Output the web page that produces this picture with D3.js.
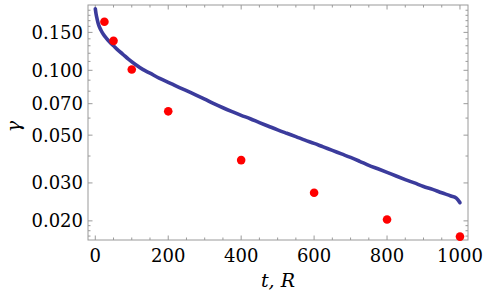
<!DOCTYPE html>
<html>
<head>
<meta charset="utf-8">
<script src="https://cdn.jsdelivr.net/npm/d3@7"></script>
<style>
  html, body { margin: 0; padding: 0; background: #fff; }
</style>
</head>
<body>
<svg id="chart" width="485" height="299"></svg>
<script>
// ---- data ----
const curveT = [0,2,5,8,12,16,22,30,40,50,60,75,90,110,130,150,175,200,225,250,275,300,325,350,375,400,425,450,475,500,525,550,575,600,625,650,675,700,725,750,775,800,825,850,875,900,925,950,975,990,1000];
const curveGamma = [0.193,0.183,0.173,0.165,0.158,0.153,0.147,0.141,0.135,0.130,0.125,0.119,0.113,0.1065,0.101,0.097,0.092,0.088,0.084,0.0805,0.077,0.0735,0.0700,0.0670,0.0643,0.0618,0.0596,0.0572,0.0550,0.0529,0.0510,0.0492,0.0474,0.0458,0.0441,0.0425,0.0409,0.0394,0.0378,0.0362,0.0349,0.0336,0.0323,0.0311,0.0300,0.0289,0.0280,0.0270,0.0261,0.0255,0.0243];
const pointT = [25,50,100,200,400,600,800,1000];
const pointGamma = [0.168,0.137,0.1008,0.0645,0.0383,0.027,0.0203,0.0169];
const xTicks = [0,200,400,600,800,1000];
const xMinorTicks = d3.range(0, 1001, 50);
const yTicks = [0.02,0.03,0.05,0.07,0.10,0.15];
const yMinorTicks = [0.017,0.018,0.019,0.04,0.06,0.08,0.09,0.11,0.12,0.13,0.14,0.16,0.17,0.18,0.19];

// ---- layout ----
const L = 88, R = 468, T = 5, B = 240;
const FONT = "'DejaVu Serif', serif";
const svg = d3.select("#chart");
const x = d3.scaleLinear().domain([-20, 1022]).range([L, R]);
const y = d3.scaleLog().domain([0.0163, 0.201]).range([B, T]);

const frameColor = "#9a9a9a";

// frame
svg.append("rect").attr("x", L).attr("y", T).attr("width", R - L).attr("height", B - T)
  .attr("fill", "none").attr("stroke", frameColor).attr("stroke-width", 1);

// ticks (inward)
function ticks(g, scale, vals, len, orient) {
  g.selectAll("line").data(vals).join("line")
    .attr("stroke", frameColor).attr("stroke-width", 1)
    .each(function(d) {
      const s = d3.select(this);
      const p = scale(d);
      if (orient === "bottom") s.attr("x1", p).attr("x2", p).attr("y1", B).attr("y2", B - len);
      if (orient === "top") s.attr("x1", p).attr("x2", p).attr("y1", T).attr("y2", T + len);
      if (orient === "left") s.attr("y1", p).attr("y2", p).attr("x1", L).attr("x2", L + len);
      if (orient === "right") s.attr("y1", p).attr("y2", p).attr("x1", R).attr("x2", R - len);
    });
}
const tg = svg.append("g");
ticks(tg.append("g"), x, xTicks, 4.5, "bottom");
ticks(tg.append("g"), x, xMinorTicks.filter(v => !xTicks.includes(v)), 2.5, "bottom");
ticks(tg.append("g"), x, xTicks, 4.5, "top");
ticks(tg.append("g"), x, xMinorTicks.filter(v => !xTicks.includes(v)), 2.5, "top");
ticks(tg.append("g"), y, yTicks, 4.5, "left");
ticks(tg.append("g"), y, yMinorTicks, 2.5, "left");
ticks(tg.append("g"), y, yTicks, 4.5, "right");
ticks(tg.append("g"), y, yMinorTicks, 2.5, "right");

// tick labels
svg.append("g").selectAll("text").data(xTicks).join("text")
  .attr("font-family", FONT)
  .attr("x", d => x(d)).attr("y", 262).attr("text-anchor", "middle")
  .attr("font-size", 18).text(d => d);
svg.append("g").selectAll("text").data(yTicks).join("text")
  .attr("font-family", FONT)
  .attr("x", 83).attr("y", d => y(d) + 6.5).attr("text-anchor", "end")
  .attr("font-size", 18).text(d => d3.format(".3f")(d));

// axis titles
svg.append("text").attr("font-family", FONT).attr("x", (L + R) / 2).attr("y", 287).attr("text-anchor", "middle")
  .attr("font-size", 19).attr("font-style", "italic").text("t, R");
svg.append("text").attr("font-family", FONT).attr("transform", `translate(20,${(T + B) / 2 + 4}) rotate(-90)`)
  .attr("text-anchor", "middle").attr("font-size", 19).attr("font-style", "italic").text("γ");

// curve
const curveData = curveT.map((t, i) => [t, curveGamma[i]]);
svg.append("path").datum(curveData)
  .attr("fill", "none").attr("stroke", "#3b3b9c").attr("stroke-width", 3.6)
  .attr("stroke-linejoin", "round").attr("stroke-linecap", "round")
  .attr("d", d3.line().x(d => x(d[0])).y(d => y(d[1])).curve(d3.curveMonotoneX));

// points
svg.append("g").selectAll("circle").data(pointT.map((t, i) => [t, pointGamma[i]])).join("circle")
  .attr("cx", d => x(d[0])).attr("cy", d => y(d[1])).attr("r", 4.3).attr("fill", "#ff0000");
</script>
</body>
</html>
